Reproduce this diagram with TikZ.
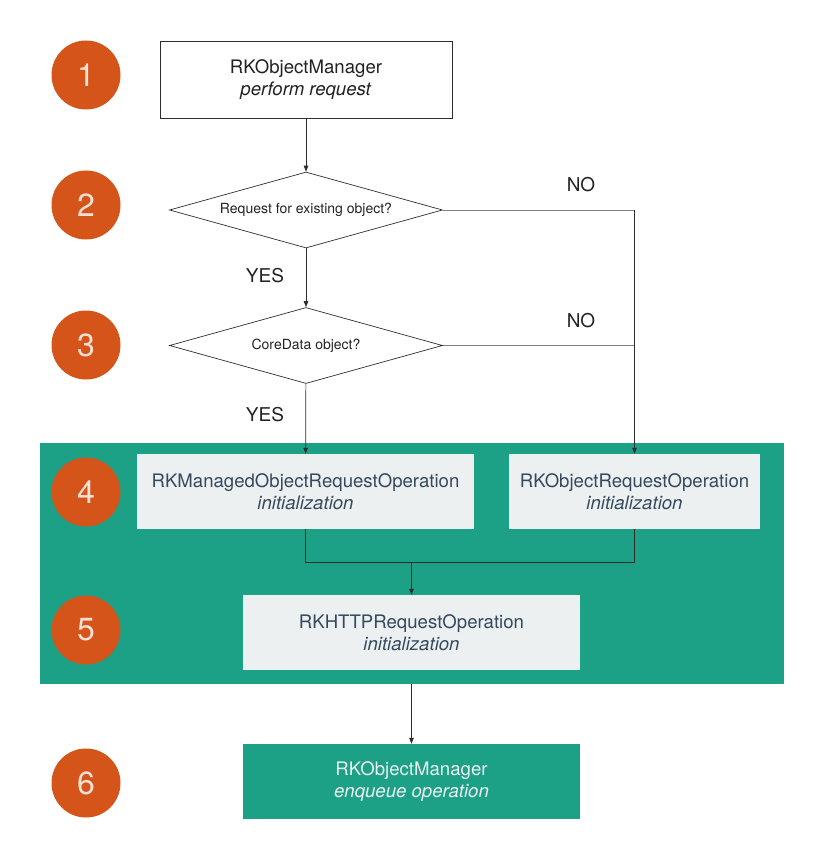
\documentclass[tikz,border=0pt]{standalone}
\usepackage{fontspec}
\setmainfont{TeX Gyre Heros}
\usetikzlibrary{positioning,shapes.geometric,arrows.meta}

\definecolor{pumpkin}{RGB}{212,84,26}
\definecolor{sea}{RGB}{28,161,135}
\definecolor{cloud}{RGB}{236,240,241}
\definecolor{slate}{RGB}{52,73,94}
\definecolor{wire}{RGB}{45,45,45}
\definecolor{ink}{RGB}{34,34,34}

\begin{document}
\begin{tikzpicture}[x=1pt, y=-1pt,
		badge/.style={circle, fill=pumpkin, minimum size=69pt, inner sep=0pt, text=white!82!pumpkin, font=\fontsize{32}{32}\selectfont},
		plainbox/.style={rectangle, draw=wire, line width=0.7pt, fill=white, text=ink, align=center, minimum width=292pt, minimum height=77pt, font=\fontsize{18.6}{22.5}\selectfont, execute at begin node={\rule{0pt}{23pt}}},
		opbox/.style={rectangle, fill=cloud, text=slate, align=center, minimum height=75pt, font=\fontsize{18.6}{22.5}\selectfont, execute at begin node={\rule{0pt}{23pt}}},
		question/.style={diamond, draw=wire, line width=0.7pt, text=ink, aspect=3.6, inner sep=2pt, minimum width=273pt, minimum height=76pt, font=\fontsize{14}{16}\selectfont},
		answer/.style={text=ink, font=\fontsize{19}{19}\selectfont},
		line/.style={draw=wire, line width=0.7pt},
		arrow/.style={line, -{Triangle[length=6pt,width=4.5pt]}}]
		\useasboundingbox (0,0) rectangle (824,861);

		% green band behind steps 4 and 5
		\node (stage) [rectangle, fill=sea, inner sep=0pt, minimum width=744pt, minimum height=241pt] at (412,563.5) {};

		\node (s1) [badge] at (86,75) {1};
		\node (s2) [badge] at (86,205) {2};
		\node (s3) [badge] at (86,345) {3};
		\node (s4) [badge] at (86,492) {4};
		\node (s5) [badge] at (86,630) {5};
		\node (s6) [badge] at (86,783) {6};

		\node (mgr) [plainbox] at (306,79.5) {RKObjectManager\\\textit{perform request}};
		\node (exist) [question] at (306,210) {Request for existing object?};
		\node (core) [question] at (306,345.5) {CoreData object?};

		\node (managed) [opbox, minimum width=337pt] at (305.5,491.5) {RKManagedObjectRequestOperation\\\textit{initialization}};
		\node (plain) [opbox, minimum width=251pt] at (634.5,491.5) {RKObjectRequestOperation\\\textit{initialization}};
		\node (http) [opbox, minimum width=337pt] at (411.5,632.5) {RKHTTPRequestOperation\\\textit{initialization}};
		\node (enqueue) [opbox, fill=sea, text=cloud, minimum width=337pt] at (411.5,781.5) {RKObjectManager\\\textit{enqueue operation}};

		\node (no1) [answer] at (581,185) {NO};
		\node (no2) [answer] at (581,321) {NO};
		\node (yes1) [answer] at (265,276) {YES};
		\node (yes2) [answer] at (265,415) {YES};

		\coordinate (turn) at (plain.north |- exist);
		\coordinate (join) at (411.5,562);

		\draw [arrow] (mgr) -- (exist);
		\draw [arrow] (exist) -- (core);
		\draw [arrow] (core) -- (managed);
		\draw [line, draw=gray] (exist.east) -- (turn);
		\draw [line, draw=gray] (core.east) -- (core -| turn);
		\draw [arrow] (turn) -- (plain.north);
		\draw [line] (managed.south) |- (plain.south |- join) -- (plain.south);
		\draw [arrow] (join) -- (http.north);
		\draw [arrow] (stage.south -| http.south) -- (enqueue.north);
	\end{tikzpicture}
\end{document}
